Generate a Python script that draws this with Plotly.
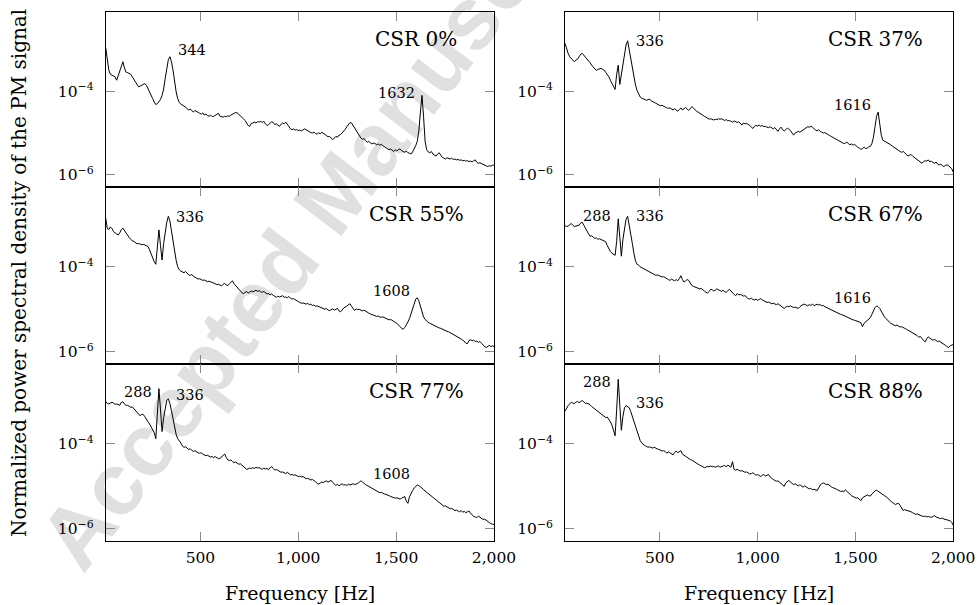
import plotly.graph_objects as go

# Frequency grid [Hz] (8 Hz resolution)
FREQ = list(range(16, 2001, 8))

# log10 of normalized PSD
csr0_log = [
    -2.96, -3.30, -3.50, -3.60, -3.62, -3.64, -3.66, -3.74, -3.62, -3.50,
    -3.36, -3.30, -3.45, -3.55, -3.56, -3.58, -3.60, -3.66, -3.72, -3.78,
    -3.84, -3.90, -3.88, -3.86, -3.84, -3.82, -3.86, -3.95, -4.03, -4.10,
    -4.18, -4.26, -4.32, -4.30, -4.26, -4.20, -4.10, -3.95, -3.70, -3.45,
    -3.25, -3.18, -3.30, -3.50, -3.80, -4.02, -4.18, -4.27, -4.31, -4.33,
    -4.35, -4.38, -4.42, -4.45, -4.43, -4.47, -4.50, -4.46, -4.49, -4.52,
    -4.53, -4.55, -4.52, -4.57, -4.55, -4.58, -4.60, -4.57, -4.61, -4.60,
    -4.58, -4.55, -4.53, -4.60, -4.62, -4.62, -4.60, -4.61, -4.59, -4.60,
    -4.57, -4.55, -4.52, -4.51, -4.52, -4.55, -4.58, -4.62, -4.66, -4.70,
    -4.75, -4.82, -4.84, -4.77, -4.76, -4.74, -4.76, -4.73, -4.74, -4.72,
    -4.75, -4.72, -4.78, -4.82, -4.80, -4.76, -4.73, -4.75, -4.80, -4.78,
    -4.82, -4.84, -4.79, -4.76, -4.78, -4.74, -4.79, -4.84, -4.90, -4.92,
    -4.90, -4.93, -4.92, -4.94, -4.93, -4.95, -4.92, -4.90, -4.92, -4.95,
    -4.97, -4.99, -5.00, -4.98, -5.01, -5.03, -4.99, -5.02, -4.98, -5.00,
    -5.03, -5.06, -5.09, -5.08, -5.12, -5.16, -5.12, -5.08, -5.10, -5.05,
    -5.04, -5.00, -4.96, -4.91, -4.85, -4.79, -4.75, -4.76, -4.82, -4.90,
    -4.96, -5.02, -5.08, -5.12, -5.15, -5.13, -5.18, -5.22, -5.20, -5.23,
    -5.26, -5.24, -5.25, -5.28, -5.26, -5.29, -5.27, -5.30, -5.33, -5.35,
    -5.37, -5.40, -5.38, -5.42, -5.44, -5.40, -5.43, -5.39, -5.38, -5.42,
    -5.44, -5.46, -5.43, -5.47, -5.48, -5.50, -5.45, -5.38, -5.30, -5.20,
    -4.95, -4.50, -4.10, -4.60, -5.20, -5.40, -5.45, -5.47, -5.44, -5.50,
    -5.52, -5.55, -5.50, -5.47, -5.53, -5.58, -5.60, -5.62, -5.59, -5.61,
    -5.62, -5.60, -5.63, -5.62, -5.64, -5.63, -5.65, -5.64, -5.66, -5.65,
    -5.67, -5.66, -5.68, -5.67, -5.69, -5.66, -5.64, -5.70, -5.72, -5.71,
    -5.73, -5.75, -5.77, -5.79, -5.80, -5.78, -5.79, -5.77, -5.76,
]

csr37_log = [
    -2.86, -3.00, -3.10, -3.18, -3.22, -3.26, -3.30, -3.26, -3.24, -3.18,
    -3.12, -3.10, -3.14, -3.18, -3.22, -3.26, -3.32, -3.38, -3.42, -3.48,
    -3.51, -3.48, -3.46, -3.46, -3.48, -3.50, -3.55, -3.60, -3.66, -3.74,
    -3.82, -3.90, -3.96, -3.60, -3.38, -3.84, -3.62, -3.40, -3.15, -2.90,
    -2.80, -3.02, -3.20, -3.45, -3.65, -3.85, -3.98, -4.08, -4.14, -4.17,
    -4.18, -4.20, -4.22, -4.21, -4.19, -4.23, -4.26, -4.27, -4.29, -4.31,
    -4.33, -4.35, -4.34, -4.37, -4.38, -4.40, -4.41, -4.40, -4.43, -4.45,
    -4.42, -4.46, -4.48, -4.44, -4.40, -4.45, -4.41, -4.39, -4.43, -4.46,
    -4.42, -4.37, -4.40, -4.45, -4.48, -4.50, -4.53, -4.55, -4.58, -4.60,
    -4.62, -4.64, -4.67, -4.66, -4.68, -4.69, -4.67, -4.68, -4.66, -4.67,
    -4.66, -4.68, -4.70, -4.68, -4.71, -4.70, -4.72, -4.74, -4.71, -4.73,
    -4.75, -4.73, -4.78, -4.81, -4.76, -4.78, -4.77, -4.79, -4.82, -4.86,
    -4.89, -4.84, -4.82, -4.83, -4.81, -4.84, -4.82, -4.85, -4.84, -4.86,
    -4.87, -4.85, -4.88, -4.90, -4.87, -4.93, -4.96, -4.90, -4.86, -4.92,
    -4.95, -4.92, -4.88, -4.91, -4.94, -5.00, -5.05, -5.00, -4.98, -4.96,
    -4.98, -4.95, -4.92, -4.90, -4.87, -4.85, -4.86, -4.84, -4.86, -4.90,
    -4.93, -4.95, -4.92, -4.96, -4.98, -5.00, -4.99, -5.02, -5.04, -5.06,
    -5.08, -5.10, -5.12, -5.14, -5.16, -5.18, -5.20, -5.22, -5.25, -5.24,
    -5.22, -5.25, -5.28, -5.26, -5.29, -5.27, -5.31, -5.34, -5.36, -5.39,
    -5.37, -5.34, -5.37, -5.36, -5.33, -5.32, -5.25, -5.10, -4.85, -4.60,
    -4.50, -4.75, -5.05, -5.17, -5.19, -5.21, -5.23, -5.26, -5.28, -5.31,
    -5.34, -5.36, -5.40, -5.42, -5.44, -5.46, -5.44, -5.47, -5.50, -5.55,
    -5.53, -5.51, -5.55, -5.58, -5.62, -5.64, -5.66, -5.70, -5.72, -5.68,
    -5.66, -5.67, -5.64, -5.69, -5.67, -5.70, -5.72, -5.69, -5.74, -5.76,
    -5.74, -5.78, -5.80, -5.77, -5.76, -5.78, -5.81, -5.85, -5.94,
]

csr55_log = [
    -2.85, -3.10, -3.12, -3.06, -3.10, -3.17, -3.20, -3.22, -3.25, -3.20,
    -3.12, -3.09, -3.15, -3.22, -3.27, -3.31, -3.35, -3.39, -3.40, -3.43,
    -3.46, -3.45, -3.47, -3.48, -3.47, -3.49, -3.50, -3.52, -3.60, -3.70,
    -3.80, -3.88, -3.94, -3.50, -3.13, -3.50, -3.84, -3.45, -3.15, -2.95,
    -2.81, -2.92, -3.15, -3.40, -3.62, -3.85, -4.00, -4.07, -4.10, -4.12,
    -4.14, -4.11, -4.16, -4.19, -4.20, -4.18, -4.22, -4.25, -4.27, -4.29,
    -4.28, -4.30, -4.32, -4.31, -4.33, -4.35, -4.34, -4.36, -4.37, -4.38,
    -4.40, -4.42, -4.41, -4.44, -4.45, -4.41, -4.39, -4.43, -4.44, -4.40,
    -4.36, -4.33, -4.40, -4.44, -4.50, -4.54, -4.57, -4.61, -4.63, -4.60,
    -4.58, -4.62, -4.60, -4.57, -4.59, -4.56, -4.55, -4.58, -4.56, -4.59,
    -4.60, -4.58, -4.62, -4.64, -4.63, -4.66, -4.64, -4.68, -4.70, -4.72,
    -4.69, -4.71, -4.70, -4.68, -4.72, -4.71, -4.73, -4.70, -4.74, -4.76,
    -4.75, -4.78, -4.80, -4.82, -4.84, -4.86, -4.85, -4.87, -4.88, -4.86,
    -4.89, -4.88, -4.91, -4.90, -4.93, -4.92, -4.94, -4.96, -4.97, -4.99,
    -5.00, -4.98, -5.02, -5.03, -5.01, -4.99, -5.02, -5.00, -4.98, -5.04,
    -5.06, -5.02, -4.97, -4.95, -4.92, -4.89, -4.87, -4.93, -4.98, -5.03,
    -4.99, -5.01, -5.00, -5.03, -5.04, -5.02, -5.05, -5.08, -5.09, -5.11,
    -5.12, -5.14, -5.15, -5.17, -5.16, -5.18, -5.19, -5.18, -5.20, -5.22,
    -5.23, -5.25, -5.24, -5.27, -5.29, -5.31, -5.33, -5.36, -5.41, -5.45,
    -5.47, -5.43, -5.38, -5.30, -5.22, -5.12, -5.00, -4.88, -4.76, -4.73,
    -4.80, -4.92, -5.06, -5.18, -5.24, -5.28, -5.31, -5.33, -5.35, -5.37,
    -5.39, -5.41, -5.42, -5.44, -5.45, -5.47, -5.48, -5.50, -5.52, -5.53,
    -5.55, -5.57, -5.59, -5.61, -5.63, -5.66, -5.68, -5.70, -5.73, -5.75,
    -5.80, -5.81, -5.74, -5.72, -5.74, -5.73, -5.76, -5.75, -5.78, -5.76,
    -5.80, -5.85, -5.88, -5.90, -5.87, -5.85, -5.88, -5.86, -5.88,
]

csr67_log = [
    -3.03, -3.05, -3.04, -3.00, -2.98, -3.02, -3.05, -3.04, -3.03, -3.02,
    -2.97, -2.95, -3.02, -3.10, -3.16, -3.22, -3.28, -3.27, -3.30, -3.33,
    -3.32, -3.35, -3.34, -3.36, -3.38, -3.39, -3.41, -3.50, -3.58, -3.64,
    -3.68, -3.71, -3.73, -3.40, -2.87, -3.30, -3.75, -3.35, -3.05, -2.88,
    -2.81, -3.00, -3.22, -3.45, -3.68, -3.86, -3.94, -3.96, -4.00, -4.02,
    -4.05, -4.07, -4.10, -4.12, -4.14, -4.15, -4.17, -4.18, -4.20, -4.19,
    -4.21, -4.22, -4.24, -4.23, -4.26, -4.28, -4.30, -4.32, -4.29, -4.31,
    -4.33, -4.30, -4.33, -4.28, -4.21, -4.30, -4.36, -4.33, -4.30, -4.32,
    -4.40, -4.44, -4.46, -4.48, -4.49, -4.50, -4.52, -4.51, -4.55, -4.57,
    -4.60, -4.62, -4.58, -4.53, -4.54, -4.57, -4.55, -4.52, -4.54, -4.56,
    -4.58, -4.55, -4.59, -4.60, -4.56, -4.53, -4.57, -4.62, -4.65, -4.68,
    -4.63, -4.66, -4.65, -4.67, -4.69, -4.68, -4.72, -4.75, -4.76, -4.74,
    -4.77, -4.78, -4.76, -4.79, -4.77, -4.75, -4.78, -4.80, -4.82, -4.84,
    -4.83, -4.85, -4.87, -4.86, -4.88, -4.89, -4.87, -4.90, -4.93, -4.96,
    -4.98, -4.95, -4.93, -4.94, -4.92, -4.94, -4.96, -4.95, -4.97, -4.98,
    -4.94, -4.91, -4.89, -4.88, -4.90, -4.92, -4.89, -4.91, -4.88, -4.91,
    -4.90, -4.88, -4.90, -4.89, -4.92, -4.91, -4.94, -4.96, -4.98, -5.00,
    -5.01, -5.03, -5.05, -5.07, -5.08, -5.10, -5.12, -5.13, -5.15, -5.16,
    -5.18, -5.20, -5.22, -5.23, -5.25, -5.26, -5.27, -5.29, -5.30, -5.32,
    -5.41, -5.33, -5.30, -5.27, -5.25, -5.20, -5.12, -5.02, -4.96, -4.92,
    -4.94, -4.98, -5.05, -5.12, -5.18, -5.22, -5.26, -5.30, -5.33, -5.35,
    -5.37, -5.39, -5.37, -5.40, -5.42, -5.41, -5.44, -5.45, -5.47, -5.49,
    -5.51, -5.53, -5.55, -5.58, -5.60, -5.62, -5.66, -5.64, -5.69, -5.72,
    -5.77, -5.70, -5.65, -5.68, -5.70, -5.73, -5.71, -5.74, -5.76, -5.75,
    -5.77, -5.80, -5.82, -5.85, -5.88, -5.90, -5.86, -5.84, -5.83,
]

csr77_log = [
    -3.00, -3.05, -3.06, -3.04, -3.02, -3.04, -3.07, -3.06, -3.08, -3.09,
    -3.02, -3.01, -3.06, -3.10, -3.09, -3.12, -3.14, -3.13, -3.17, -3.22,
    -3.26, -3.30, -3.34, -3.30, -3.31, -3.36, -3.43, -3.48, -3.53, -3.60,
    -3.66, -3.74, -3.88, -3.30, -2.70, -3.20, -3.71, -3.38, -3.12, -2.98,
    -2.94, -3.05, -3.22, -3.42, -3.62, -3.78, -3.88, -3.92, -3.98, -4.05,
    -4.08, -4.07, -4.10, -4.13, -4.12, -4.15, -4.18, -4.16, -4.19, -4.21,
    -4.22, -4.21, -4.24, -4.26, -4.28, -4.27, -4.29, -4.31, -4.30, -4.32,
    -4.30, -4.33, -4.35, -4.34, -4.30, -4.26, -4.24, -4.32, -4.38, -4.39,
    -4.38, -4.42, -4.44, -4.43, -4.46, -4.48, -4.47, -4.50, -4.53, -4.56,
    -4.60, -4.59, -4.57, -4.58, -4.56, -4.58, -4.55, -4.57, -4.56, -4.58,
    -4.60, -4.57, -4.59, -4.58, -4.61, -4.56, -4.54, -4.58, -4.62, -4.60,
    -4.62, -4.64, -4.67, -4.66, -4.68, -4.70, -4.67, -4.71, -4.73, -4.72,
    -4.74, -4.73, -4.75, -4.77, -4.76, -4.78, -4.77, -4.80, -4.82, -4.81,
    -4.83, -4.85, -4.84, -4.86, -4.89, -4.93, -4.95, -4.92, -4.90, -4.91,
    -4.89, -4.87, -4.90, -4.88, -4.86, -4.91, -4.96, -4.98, -4.95, -4.99,
    -4.96, -4.94, -4.97, -4.96, -4.98, -4.95, -4.97, -4.96, -4.94, -4.96,
    -4.95, -4.93, -4.90, -4.87, -4.90, -4.94, -4.96, -4.98, -5.00, -5.03,
    -5.05, -5.08, -5.10, -5.12, -5.13, -5.15, -5.14, -5.17, -5.18, -5.19,
    -5.20, -5.22, -5.24, -5.25, -5.27, -5.28, -5.27, -5.29, -5.30, -5.28,
    -5.26, -5.24, -5.35, -5.40, -5.25, -5.16, -5.10, -5.04, -5.00, -4.97,
    -4.98, -5.00, -5.04, -5.08, -5.11, -5.14, -5.17, -5.20, -5.22, -5.25,
    -5.28, -5.31, -5.34, -5.37, -5.41, -5.45, -5.47, -5.46, -5.49, -5.51,
    -5.53, -5.52, -5.55, -5.57, -5.56, -5.58, -5.60, -5.57, -5.61, -5.59,
    -5.62, -5.60, -5.58, -5.63, -5.67, -5.71, -5.72, -5.74, -5.70, -5.73,
    -5.76, -5.78, -5.77, -5.80, -5.82, -5.85, -5.88, -5.89, -5.90,
]

csr88_log = [
    -3.23, -3.15, -3.10, -3.06, -3.02, -3.04, -3.05, -3.02, -3.00, -3.03,
    -3.00, -2.98, -3.01, -3.05, -3.04, -3.06, -3.08, -3.12, -3.15, -3.18,
    -3.22, -3.24, -3.26, -3.30, -3.32, -3.36, -3.38, -3.37, -3.42, -3.48,
    -3.56, -3.68, -3.81, -3.20, -2.48, -3.10, -3.68, -3.35, -3.15, -3.10,
    -3.13, -3.15, -3.24, -3.36, -3.50, -3.62, -3.72, -3.82, -3.92, -3.98,
    -4.02, -4.04, -4.06, -4.08, -4.07, -4.09, -4.10, -4.08, -4.11, -4.12,
    -4.13, -4.15, -4.17, -4.16, -4.18, -4.22, -4.19, -4.21, -4.24, -4.26,
    -4.20, -4.17, -4.21, -4.18, -4.16, -4.24, -4.27, -4.30, -4.32, -4.35,
    -4.37, -4.38, -4.41, -4.44, -4.46, -4.48, -4.50, -4.52, -4.55, -4.56,
    -4.55, -4.53, -4.54, -4.52, -4.54, -4.53, -4.55, -4.54, -4.52, -4.55,
    -4.53, -4.52, -4.51, -4.54, -4.50, -4.53, -4.55, -4.42, -4.60, -4.62,
    -4.60, -4.62, -4.64, -4.63, -4.65, -4.67, -4.66, -4.69, -4.71, -4.70,
    -4.68, -4.71, -4.74, -4.72, -4.75, -4.77, -4.74, -4.72, -4.76, -4.74,
    -4.72, -4.78, -4.82, -4.84, -4.86, -4.88, -4.87, -4.90, -4.93, -4.97,
    -5.00, -4.92, -4.88, -4.86, -4.90, -4.94, -4.96, -4.94, -4.97, -4.99,
    -4.96, -5.00, -5.02, -4.99, -5.01, -5.04, -5.06, -5.05, -5.08, -5.07,
    -5.09, -5.10, -5.04, -4.97, -4.94, -4.92, -4.94, -4.96, -4.95, -4.99,
    -5.01, -5.03, -5.04, -5.06, -5.08, -5.10, -5.12, -5.11, -5.13, -5.08,
    -5.12, -5.16, -5.19, -5.22, -5.24, -5.26, -5.28, -5.27, -5.30, -5.34,
    -5.27, -5.25, -5.22, -5.20, -5.22, -5.23, -5.18, -5.14, -5.11, -5.09,
    -5.12, -5.15, -5.17, -5.20, -5.22, -5.24, -5.28, -5.32, -5.35, -5.38,
    -5.40, -5.43, -5.41, -5.40, -5.45, -5.52, -5.57, -5.55, -5.56, -5.58,
    -5.59, -5.60, -5.62, -5.64, -5.66, -5.65, -5.67, -5.69, -5.70, -5.71,
    -5.70, -5.72, -5.71, -5.72, -5.73, -5.71, -5.69, -5.72, -5.74, -5.75,
    -5.76, -5.75, -5.77, -5.78, -5.79, -5.80, -5.81, -5.85, -5.92,
]

PANEL_LABELS = ["CSR 0%", "CSR 37%", "CSR 55%", "CSR 67%", "CSR 77%", "CSR 88%"]
SERIES = [csr0_log, csr37_log, csr55_log, csr67_log, csr77_log, csr88_log]
# marked peaks: (frequency, side of label)
PEAKS = [
    [(344, "right"), (1632, "left")],
    [(336, "right"), (1616, "left")],
    [(336, "right"), (1608, "left")],
    [(288, "left"), (336, "right"), (1616, "left")],
    [(288, "left"), (336, "right"), (1608, "left")],
    [(288, "left"), (336, "right")],
]
# vertical offsets of the peak labels (px, styling)
PEAK_DY = [[7, 2], [0, 7], [-1, 7], [3, 0, 9], [-3, 4, 11], [-3, 4]]

X_TICKS = [500, 1000, 1500, 2000]
X_TICKTEXT = ["500", "1,000", "1,500", "2,000"]
Y_TICKS = [1e-6, 1e-4]
Y_TICKTEXT = ["10<sup>\u22126</sup>", "10<sup>\u22124</sup>"]

for s in SERIES:
    assert len(s) == len(FREQ), (len(s), len(FREQ))

W, H = 979, 605
FONT = "DejaVu Serif"
col_dom = [[105.7 / W, 494.0 / W], [565.0 / W, 953.3 / W]]
row_px = [(12.3, 186.7), (187.0, 363.6), (364.0, 540.7)]
row_dom = [[1 - b / H, 1 - t / H] for t, b in row_px]

fig = go.Figure()
annotations = []
layout = {}
for k in range(6):
    r, c = divmod(k, 2)
    n = k + 1
    xa = "x" if n == 1 else f"x{n}"
    ya = "y" if n == 1 else f"y{n}"
    fig.add_trace(go.Scatter(
        x=FREQ, y=[10 ** v for v in SERIES[k]], mode="lines",
        line=dict(color="black", width=1), xaxis=xa, yaxis=ya,
        showlegend=False, hoverinfo="skip"))
    bottom = r == 2
    layout["xaxis" if n == 1 else f"xaxis{n}"] = dict(
        domain=col_dom[c], anchor=ya, range=[16, 2000], automargin=False,
        tickvals=X_TICKS, ticktext=X_TICKTEXT, showticklabels=bottom,
        ticks="inside", ticklen=9, tickcolor="#8a8a8a", tickwidth=1,
        showline=True, linecolor="black", linewidth=1, mirror="ticks",
        showgrid=False, zeroline=False, ticklabelstandoff=3,
        tickfont=dict(family=FONT, size=15.5, color="black"))
    layout["yaxis" if n == 1 else f"yaxis{n}"] = dict(
        domain=row_dom[r], anchor=xa, type="log", range=[-6.28, -2.12], automargin=False,
        tickvals=Y_TICKS, ticktext=Y_TICKTEXT,
        ticks="inside", ticklen=9, tickcolor="#8a8a8a", tickwidth=1,
        showline=True, linecolor="black", linewidth=1, mirror="ticks",
        showgrid=False, zeroline=False, ticklabelstandoff=8,
        tickfont=dict(family=FONT, size=15.5, color="black"))
    annotations.append(dict(
        text=PANEL_LABELS[k], xref=f"{xa} domain", yref=f"{ya} domain",
        x=0.8, y=0.847, xanchor="center", yanchor="middle", showarrow=False,
        font=dict(family=FONT, size=20, color="black")))
    for (f, side), dy in zip(PEAKS[k], PEAK_DY[k]):
        v = SERIES[k][FREQ.index(f)]
        annotations.append(dict(
            text=str(f), xref=xa, yref=ya, x=f, y=v,
            xanchor="left" if side == "right" else "right", yanchor="middle",
            xshift=7 if side == "right" else -6, yshift=dy, showarrow=False,
            borderpad=0, font=dict(family=FONT, size=14.5, color="black")))

for cx in (0.5 * sum(col_dom[0]), 0.5 * sum(col_dom[1])):
    annotations.append(dict(
        text="Frequency [Hz]", xref="paper", yref="paper", x=cx, y=1 - 593 / H,
        xanchor="center", yanchor="middle", showarrow=False,
        font=dict(family=FONT, size=19, color="black")))
annotations.append(dict(
    text="Normalized power spectral density of the PM signal",
    xref="paper", yref="paper", x=19 / W, y=1 - 273 / H, textangle=-90,
    xanchor="center", yanchor="middle", showarrow=False,
    font=dict(family=FONT, size=20, color="black")))

wx, wy = 322 / W, 1 - 198 / H
watermark = dict(
    type="rect", xref="paper", yref="paper", layer="below",
    x0=wx - 0.01, x1=wx + 0.01, y0=wy - 0.01, y1=wy + 0.01,
    line=dict(width=0), fillcolor="rgba(0,0,0,0)",
    label=dict(text="Accepted Manuscript", textangle=-52.7, textposition="middle center",
               font=dict(family="Liberation Sans", size=88, color="#e0e0e0", weight="bold")))

fig.update_layout(
    width=W, height=H, autosize=False, margin=dict(l=0, r=0, t=0, b=0, autoexpand=False),
    paper_bgcolor="white", plot_bgcolor="rgba(0,0,0,0)",
    annotations=annotations, shapes=[watermark], **layout)

fig.write_html("out.html", config={"displayModeBar": False, "responsive": False},
               default_width="979px", default_height="605px",
               post_script="document.body.style.margin='0px';document.body.style.overflow='hidden';")
